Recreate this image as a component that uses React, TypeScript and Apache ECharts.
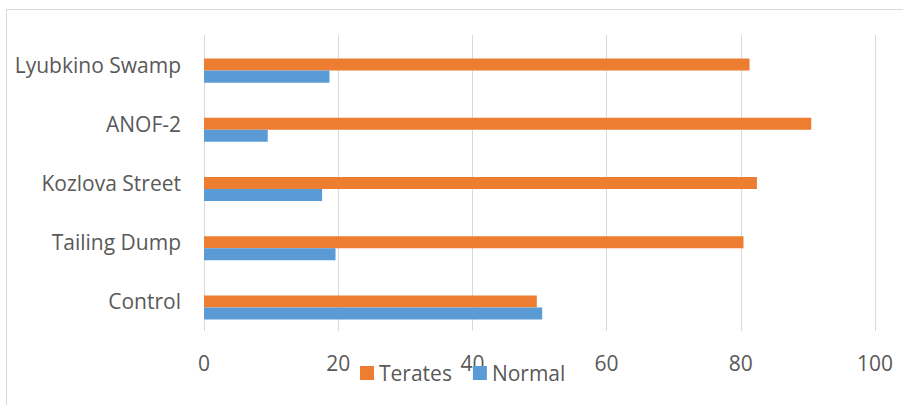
import React, { useEffect, useRef } from "react";
import * as echarts from "echarts";

const categories = ["Control", "Tailing Dump", "Kozlova Street", "ANOF-2", "Lyubkino Swamp"];
const teratesValues = [49.6, 80.4, 82.4, 90.5, 81.3];
const normalValues = [50.4, 19.6, 17.6, 9.5, 18.7];
const emptyValues = ["-", "-", "-", "-", "-"];
const xTicks = { min: 0, max: 100, interval: 20 };

const FONT = "'Open Sans', 'Liberation Sans', sans-serif";
const TEXT = "#595959";
const FS = 21;

export default function App() {
  const ref = useRef<HTMLDivElement>(null);
  useEffect(() => {
    if (!ref.current) return;
    const chart = echarts.init(ref.current, undefined, { renderer: "svg" });
    chart.setOption({
      animation: false,
      backgroundColor: "#ffffff",
      textStyle: { fontFamily: FONT, color: TEXT },
      graphic: [
        {
          type: "rect",
          shape: { x: 6.5, y: 9.5, width: 1000, height: 1000 },
          style: { fill: "none", stroke: "#D9D9D9", lineWidth: 1 },
          silent: true,
        },
      ],
      grid: { left: 204, right: 28, top: 35, bottom: 74, containLabel: false },
      legend: {
        data: ["Terates", "Normal"],
        left: 360,
        top: 362,
        padding: 0,
        itemWidth: 14,
        itemHeight: 14,
        itemGap: 21,
        icon: "rect",
        textStyle: { fontFamily: FONT, fontSize: FS, color: TEXT, lineHeight: 22 },
      },
      xAxis: {
        type: "value",
        min: xTicks.min,
        max: xTicks.max,
        interval: xTicks.interval,
        axisLine: { show: false },
        axisTick: { show: false },
        splitLine: { show: true, lineStyle: { color: "#D9D9D9", width: 1 } },
        axisLabel: { fontFamily: FONT, fontSize: FS, color: TEXT, margin: 21 },
      },
      yAxis: {
        type: "category",
        data: categories,
        axisLine: { show: false },
        axisTick: { show: false },
        splitLine: { show: false },
        axisLabel: { fontFamily: FONT, fontSize: FS, color: TEXT, margin: 23 },
      },
      series: [
        {
          name: "",
          type: "bar",
          data: emptyValues,
          barGap: "0%",
          barCategoryGap: "39%",
        },
        {
          name: "Terates",
          type: "bar",
          data: teratesValues,
          itemStyle: { color: "#ED7D31" },
          barGap: "0%",
          barCategoryGap: "39%",
        },
        {
          name: "Normal",
          type: "bar",
          data: normalValues,
          itemStyle: { color: "#5B9BD5" },
          barGap: "0%",
          barCategoryGap: "39%",
        },
      ],
    });
    return () => chart.dispose();
  }, []);
  return (
    <div
      ref={ref}
      style={{ position: "fixed", left: 0, top: 0, width: 903, height: 405 }}
    />
  );
}
